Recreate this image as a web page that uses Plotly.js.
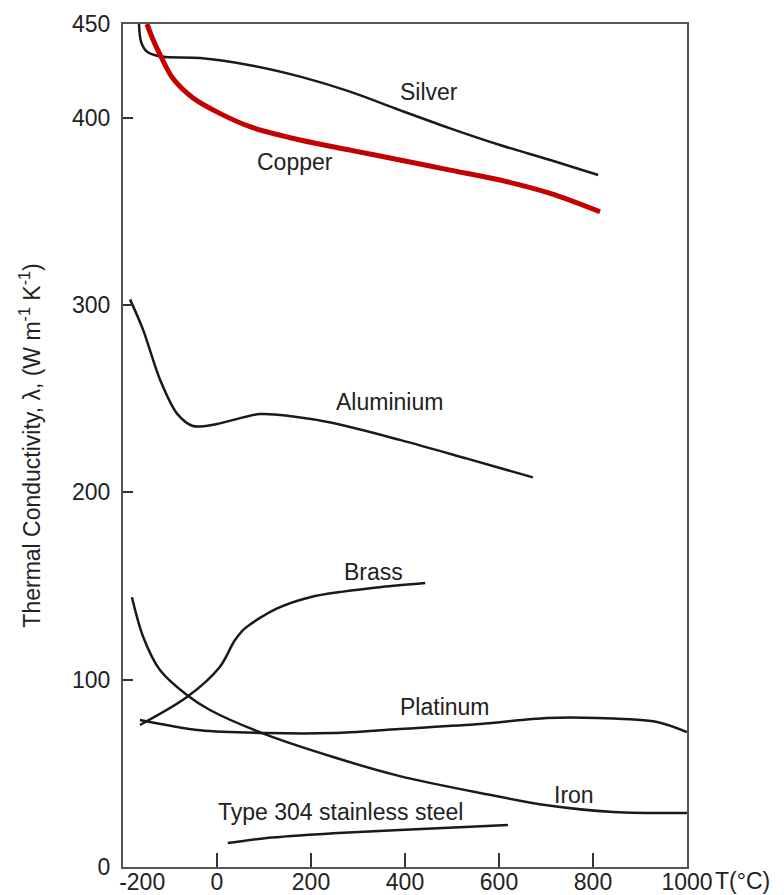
<!DOCTYPE html>
<html>
<head>
<meta charset="utf-8">
<script src="https://cdn.plot.ly/plotly-3.0.1.min.js"></script>
<style>html,body{margin:0;padding:0;background:#fff;}</style>
</head>
<body>
<div id="chart" style="width:784px;height:895px;"></div>
<script>
// Temperature (°C) and thermal conductivity (W m^-1 K^-1)
var silverT = [-166, -161, -148, -120, -36, 70, 177, 283, 389, 496, 602, 709, 811];
var silverK = [450, 440, 435, 432.6, 431.8, 428, 421.9, 413.9, 404, 394.3, 385.4, 377.4, 369.4];

var copperT = [-149, -135, -121, -94, -51, 6, 70, 177, 283, 389, 496, 602, 709, 815];
var copperK = [450, 441, 433.5, 421, 410.5, 402.3, 395.2, 388.1, 382.7, 377.4, 372, 366.7, 359.6, 349.8];

var aluT = [-185, -157, -121, -85, -51, 0, 91, 162, 247, 389, 532, 672];
var aluK = [303, 286.6, 260, 242, 235.4, 236.5, 241.8, 240.5, 237, 228, 218, 208];

var brassT = [-164, -64, 6, 38, 60, 128, 198, 268, 350, 443];
var brassK = [75.8, 90.7, 106.8, 121, 127.5, 138, 144, 147, 149.5, 151.6];

var ironT = [-181, -157, -121, -64, -15, 106, 247, 389, 560, 702, 843, 1000];
var ironK = [144, 122.8, 105, 91.8, 83.8, 70.5, 58.7, 48.5, 39.5, 33, 29.4, 28.8];

var platT = [-164, -36, 106, 247, 389, 560, 702, 809, 936, 1000];
var platK = [78.5, 73, 71.5, 71.5, 73.7, 76.3, 79.5, 79.5, 77.4, 72];

var steelT = [23, 106, 247, 389, 619];
var steelK = [12.8, 15.5, 18, 19.8, 22.4];

var xTickVals = [-200, 0, 200, 400, 600, 800, 1000];
var xTickText = ['\u00a0\u00a0\u00a0\u00a0\u00a0\u00a0-200', '0', '200', '400', '600', '800', '1000'];
var yTickVals = [0, 100, 200, 300, 400, 450];
var yTickText = ['0', '100', '200', '300', '400', '450'];

var labelNames = ['Silver', 'Copper', 'Aluminium', 'Brass', 'Platinum', 'Iron', 'Type 304 stainless steel'];
var labelT = [450, 166, 368, 334, 485, 760, 262];
var labelK = [413.7, 376.3, 248.2, 157.5, 85.4, 38.4, 29.4];

var black = '#1a1a1a';
var FONT = 'Liberation Sans, Arial, sans-serif';
function curve(x, y, color, width) {
  return {x: x, y: y, type: 'scatter', mode: 'lines',
          line: {color: color, width: width, shape: 'spline', smoothing: 0.9},
          hoverinfo: 'skip', showlegend: false};
}

var data = [
  curve(silverT, silverK, black, 2.5),
  curve(aluT, aluK, black, 2.5),
  curve(brassT, brassK, black, 2.5),
  curve(ironT, ironK, black, 2.5),
  curve(platT, platK, black, 2.5),
  curve(steelT, steelK, black, 2.5),
  curve(copperT, copperK, '#c40000', 5)
];

var annotations = labelNames.map(function (n, i) {
  return {x: labelT[i], y: labelK[i], xref: 'x', yref: 'y', text: n, showarrow: false,
          font: {family: FONT, size: 23, color: '#222'}};
});
annotations.push({x: 1, y: 0, xref: 'paper', yref: 'paper', xanchor: 'left', yanchor: 'middle',
  xshift: 26, yshift: -14, text: 'T(°C)', showarrow: false,
  font: {family: FONT, size: 23, color: '#222'}});

var layout = {
  width: 784, height: 895,
  margin: {l: 123, r: 97, t: 24, b: 28},
  paper_bgcolor: '#fff', plot_bgcolor: '#fff',
  font: {family: FONT, color: '#222'},
  xaxis: {
    range: [-200, 1000], tickvals: xTickVals, ticktext: xTickText,
    ticks: 'inside', ticklen: 14, tickwidth: 2, tickcolor: '#333',
    showline: true, linecolor: '#555', linewidth: 2, mirror: true,
    showgrid: false, zeroline: false,
    tickfont: {size: 23, color: '#222'}, ticklabelstandoff: -7
  },
  yaxis: {
    range: [0, 450], tickvals: yTickVals, ticktext: yTickText,
    ticks: 'inside', ticklen: 10, tickwidth: 2, tickcolor: '#333',
    showline: true, linecolor: '#555', linewidth: 2, mirror: true,
    showgrid: false, zeroline: false,
    tickfont: {size: 23, color: '#222'}, ticklabelstandoff: 6,
    title: {text: 'Thermal Conductivity, λ, (W m<sup>-1</sup> K<sup>-1</sup>)',
            font: {size: 23, color: '#222'}, standoff: 25}
  },
  annotations: annotations
};

Plotly.newPlot('chart', data, layout, {staticPlot: true, displayModeBar: false});
</script>
</body>
</html>
